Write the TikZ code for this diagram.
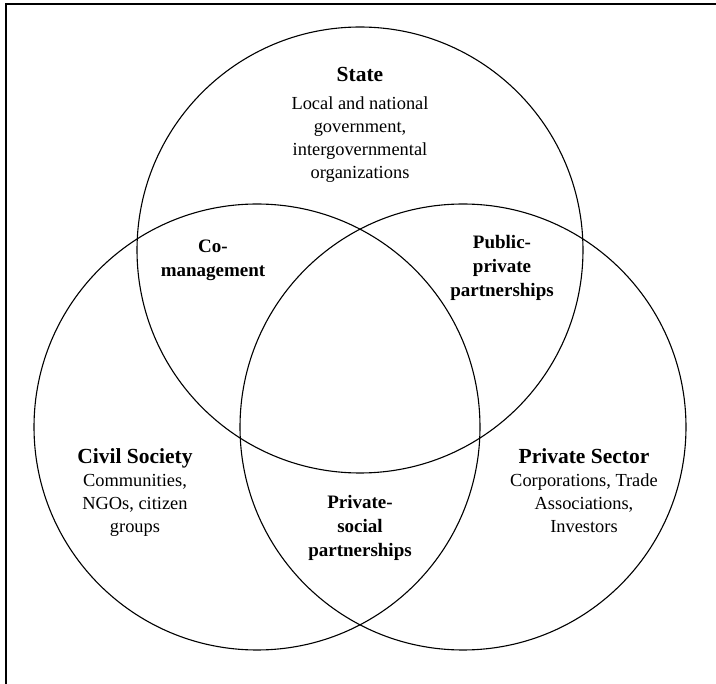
\documentclass[tikz,border=0pt]{standalone}
\usepackage{fontspec}
\setmainfont{Liberation Serif}
\usetikzlibrary{positioning}

\begin{document}
\begin{tikzpicture}[
  x=1pt, y=-1pt,
  ring/.style={circle, draw, line width=1.1pt, minimum size=446pt, inner sep=0pt},
  frame/.style={line width=2pt},
  sector/.style={align=center, anchor=north, inner sep=0pt,
    font=\fontsize{18.4}{23}\selectfont},
  overlap/.style={align=center, anchor=north, inner sep=0pt,
    font=\fontsize{19}{24}\selectfont\bfseries},
  ]
  \useasboundingbox (0,0) rectangle (716,684);

  % frame, only top and left edges are in view
  \draw[frame] (716,4) -| (6,684);

  % the three sectors
  \foreach \n/\cx/\cy in {state/360/250, civil/257/427, private/463/427}
  {
    \node[ring] (\n) at (\cx,\cy) {};
  }

  \node[sector] (statetxt) at (360,67.5)
    {{\fontsize{21.5}{26}\selectfont\bfseries State}\\[5pt]
     Local and national\\ government,\\ intergovernmental\\ organizations};
  \node[sector] (civiltxt) at (135,448)
    {{\fontsize{21.5}{26}\selectfont\bfseries Civil Society}\\
     Communities,\\ NGOs, citizen\\ groups};
  \node[sector] (privatetxt) at (584,448)
    {{\fontsize{21.5}{26}\selectfont\bfseries Private Sector}\\
     Corporations, Trade\\ Associations,\\ Investors};

  % overlaps
  \node[overlap] (comgmt) at (213,240) {Co-\\ management};
  \node[overlap] (ppp) at (502,235) {Public-\\ private\\ partnerships};
  \node[overlap] (psp) at (360,495) {Private-\\ social\\ partnerships};

\end{tikzpicture}
\end{document}
